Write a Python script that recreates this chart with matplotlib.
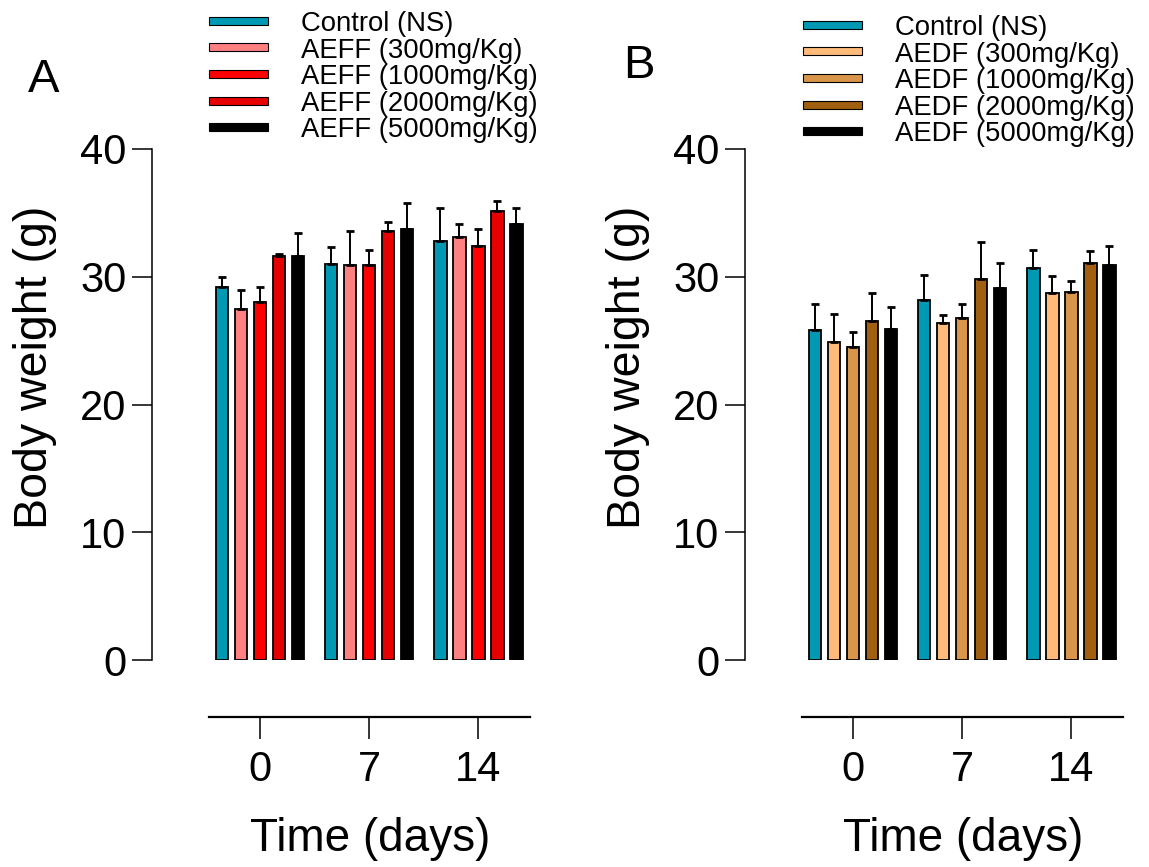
import numpy as np
import matplotlib
matplotlib.use('Agg')
import matplotlib.pyplot as plt
from matplotlib.patches import Patch

plt.rcParams['font.family'] = ['Liberation Sans', 'DejaVu Sans']

# --- data ---
days = [0, 7, 14]

aeff_labels = ['Control (NS)', 'AEFF (300mg/Kg)', 'AEFF (1000mg/Kg)',
               'AEFF (2000mg/Kg)', 'AEFF (5000mg/Kg)']
aeff_colors = ['#0099b4', '#ff8080', '#ff0000', '#e60000', '#000000']
# rows = groups (control, 300, 1000, 2000, 5000), cols = days 0, 7, 14
aeff_mean = [[29.2, 31.0, 32.8],
             [27.5, 30.9, 33.1],
             [28.0, 30.9, 32.4],
             [31.6, 33.6, 35.15],
             [31.65, 33.75, 34.15]]
aeff_err = [[0.8, 1.35, 2.6],
            [1.5, 2.7, 1.05],
            [1.2, 1.2, 1.3],
            [0.2, 0.7, 0.75],
            [1.75, 2.0, 1.25]]

aedf_labels = ['Control (NS)', 'AEDF (300mg/Kg)', 'AEDF (1000mg/Kg)',
               'AEDF (2000mg/Kg)', 'AEDF (5000mg/Kg)']
aedf_colors = ['#0099b4', '#ffbb7a', '#d9954a', '#a0600f', '#000000']
aedf_mean = [[25.8, 28.2, 30.7],
             [24.9, 26.4, 28.7],
             [24.5, 26.8, 28.8],
             [26.5, 29.8, 31.1],
             [25.9, 29.15, 30.9]]
aedf_err = [[2.05, 1.9, 1.4],
            [2.2, 0.6, 1.35],
            [1.2, 1.1, 0.9],
            [2.2, 2.9, 0.9],
            [1.7, 1.95, 1.5]]

W, H = 1149, 867
fig = plt.figure(figsize=(W / 100, H / 100), dpi=100)

pitch = 1.22
width = 0.8


def panel(left_px, mean, err, colors, labels, letter, letter_xy, leg_xy):
    ax = fig.add_axes([left_px / W, (H - 660) / H, 378 / W, 511 / H])
    x = np.array(days, dtype=float)
    for i in range(5):
        pos = x + (i - 2) * pitch
        ax.bar(pos, mean[i], width=width, color=colors[i], edgecolor='black',
               linewidth=1.3, zorder=2)
        ax.errorbar(pos, mean[i], yerr=[np.zeros(3), err[i]], fmt='none',
                    ecolor='black', elinewidth=1.4, capsize=3, capthick=2,
                    zorder=3)
    ax.set_xlim(-6.92, 17.31)
    ax.set_ylim(0, 40)
    ax.set_yticks([0, 10, 20, 30, 40])
    ax.set_xticks(days)
    for s in ['top', 'right']:
        ax.spines[s].set_visible(False)
    ax.spines['bottom'].set_position(('outward', 41))
    ax.spines['bottom'].set_bounds(-3.28, 17.31)
    ax.spines['bottom'].set_linewidth(1.6)
    ax.spines['left'].set_linewidth(1.1)
    ax.tick_params(axis='y', length=14.5, width=1.1, pad=4, labelsize=30)
    ax.tick_params(axis='x', length=16, width=1.1, pad=8, labelsize=30)
    ax.set_ylabel('Body weight (g)', fontsize=33.5, va='center')
    ax.yaxis.set_label_coords(-0.31, 0.572)
    ax.set_xlabel('Time (days)', fontsize=33, va='center')
    ax.xaxis.set_label_coords(0.577, -0.35)
    fig.text(letter_xy[0] / W, 1 - letter_xy[1] / H, letter, fontsize=34,
             ha='left', va='baseline')
    handles = [Patch(facecolor=c, edgecolor='black', linewidth=0.8) for c in colors]
    fig.legend(handles, labels, loc='upper left',
               bbox_to_anchor=(leg_xy[0] / W, 1 - leg_xy[1] / H),
               frameon=False, fontsize=19.8, borderpad=0, borderaxespad=0,
               handlelength=2.15, handleheight=0.07, handletextpad=1.2,
               labelspacing=0.02)
    return ax


panel(152, aeff_mean, aeff_err, aeff_colors, aeff_labels, 'A', (28, 92), (209, 11))
panel(745, aedf_mean, aedf_err, aedf_colors, aedf_labels, 'B', (623, 78), (803, 15))

fig.savefig('out.png', dpi=100)
